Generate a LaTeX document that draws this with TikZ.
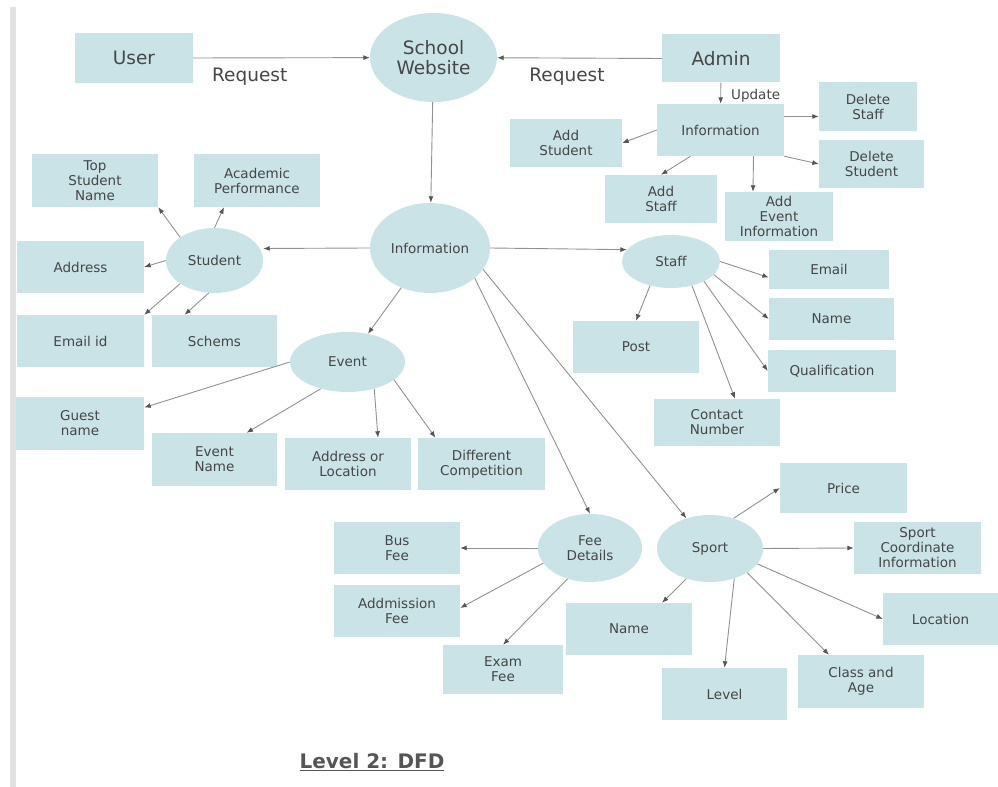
\documentclass[tikz,border=0pt]{standalone}
\usepackage{fontspec}
\setmainfont{DejaVu Sans}
\usetikzlibrary{arrows.meta,shapes}

\definecolor{boxfill}{RGB}{201,227,231}
\definecolor{txtcol}{RGB}{70,70,70}
\definecolor{edgecol}{RGB}{145,145,145}
\definecolor{headcol}{RGB}{85,85,85}
\definecolor{barcol}{RGB}{226,226,226}

\tikzset{
  ent/.style={rectangle, fill=boxfill, inner sep=0pt, align=center, text=txtcol,
    font=\fontsize{13.5bp}{15bp}\selectfont},
  proc/.style={ellipse, fill=boxfill, inner sep=0pt, align=center, text=txtcol,
    font=\fontsize{13.5bp}{15bp}\selectfont},
  big/.style={font=\fontsize{18.5bp}{20bp}\selectfont, text=txtcol},
  lbl/.style={font=\fontsize{13.5bp}{15bp}\selectfont, text=txtcol, inner sep=0pt},
  flow/.style={-{Latex[length=6.5bp,width=5bp,color=headcol]}, draw=edgecol, line width=0.9bp},
}

\begin{document}
\begin{tikzpicture}[line join=bevel,]
\useasboundingbox (0bp,0bp) rectangle (998bp,787bp);
\fill [barcol] (10bp,0bp) rectangle (16bp,780bp);
%%
  % Node: user
  \node [ent, big, minimum width=118bp, minimum height=50bp] (user) at (134bp,729bp) {User};
  % Node: website
  \node [proc, big, minimum width=127bp, minimum height=89bp] (website) at (433.5bp,729.5bp) {School\\Website};
  % Node: admin
  \node [ent, big, minimum width=118bp, minimum height=48bp] (admin) at (721bp,728.5bp) {Admin};
  % Node: ainfo
  \node [ent, minimum width=127bp, minimum height=52bp] (ainfo) at (720.5bp,657bp) {Information};
  % Node: delstaff
  \node [ent, minimum width=98bp, minimum height=49bp] (delstaff) at (868bp,680.5bp) {Delete\\Staff};
  % Node: delstud
  \node [ent, minimum width=105bp, minimum height=48bp] (delstud) at (871.5bp,623bp) {Delete\\Student};
  % Node: addstud
  \node [ent, minimum width=112bp, minimum height=48bp] (addstud) at (566bp,644bp) {Add\\Student};
  % Node: addstaff
  \node [ent, minimum width=112bp, minimum height=48bp] (addstaff) at (661bp,588bp) {Add\\Staff};
  % Node: addevent
  \node [ent, minimum width=108bp, minimum height=49bp] (addevent) at (779bp,570.5bp) {Add\\Event\\Information};
  % Node: info
  \node [proc, minimum width=120bp, minimum height=90bp] (info) at (430bp,539bp) {Information};
  % Node: student
  \node [proc, minimum width=97bp, minimum height=65bp] (student) at (214.5bp,526.5bp) {Student};
  % Node: staff
  \node [proc, minimum width=98bp, minimum height=53bp] (staff) at (671bp,525.5bp) {Staff};
  % Node: email
  \node [ent, minimum width=120bp, minimum height=39bp] (email) at (829bp,517.5bp) {Email};
  % Node: stname
  \node [ent, minimum width=125bp, minimum height=42bp] (stname) at (831.5bp,468bp) {Name};
  % Node: qual
  \node [ent, minimum width=128bp, minimum height=42bp] (qual) at (832bp,416bp) {Qualification};
  % Node: post
  \node [ent, minimum width=126bp, minimum height=52bp] (post) at (636bp,440bp) {Post};
  % Node: contact
  \node [ent, minimum width=126bp, minimum height=47bp] (contact) at (717bp,364.5bp) {Contact\\Number};
  % Node: topname
  \node [ent, minimum width=126bp, minimum height=53bp] (topname) at (95bp,606.5bp) {Top\\Student\\Name};
  % Node: academic
  \node [ent, minimum width=126bp, minimum height=53bp] (academic) at (257bp,606.5bp) {Academic\\Performance};
  % Node: address
  \node [ent, minimum width=127bp, minimum height=52bp] (address) at (80.5bp,520bp) {Address};
  % Node: emailid
  \node [ent, minimum width=127bp, minimum height=52bp] (emailid) at (80.5bp,446bp) {Email id};
  % Node: schems
  \node [ent, minimum width=125bp, minimum height=52bp] (schems) at (214.5bp,446bp) {Schems};
  % Node: event
  \node [proc, minimum width=115bp, minimum height=60bp] (event) at (347.5bp,425bp) {Event};
  % Node: guest
  \node [ent, minimum width=128bp, minimum height=53bp] (guest) at (80bp,363.5bp) {Guest\\name};
  % Node: evname
  \node [ent, minimum width=125bp, minimum height=53bp] (evname) at (214.5bp,327.5bp) {Event\\Name};
  % Node: evaddr
  \node [ent, minimum width=126bp, minimum height=52bp] (evaddr) at (348bp,323bp) {Address or\\Location};
  % Node: evcomp
  \node [ent, minimum width=127bp, minimum height=52bp] (evcomp) at (481.5bp,323bp) {Different\\Competition};
  % Node: fee
  \node [proc, minimum width=104bp, minimum height=68bp] (fee) at (590bp,239bp) {Fee\\Details};
  % Node: sport
  \node [proc, minimum width=106bp, minimum height=67bp] (sport) at (710bp,238.5bp) {Sport};
  % Node: busfee
  \node [ent, minimum width=126bp, minimum height=52bp] (busfee) at (397bp,239bp) {Bus\\Fee};
  % Node: admfee
  \node [ent, minimum width=126bp, minimum height=52bp] (admfee) at (397bp,176bp) {Addmission\\Fee};
  % Node: examfee
  \node [ent, minimum width=120bp, minimum height=49bp] (examfee) at (503bp,117.5bp) {Exam\\Fee};
  % Node: price
  \node [ent, minimum width=127bp, minimum height=50bp] (price) at (843.5bp,299bp) {Price};
  % Node: coord
  \node [ent, minimum width=127bp, minimum height=52bp] (coord) at (917.5bp,239bp) {Sport\\Coordinate\\Information};
  % Node: location
  \node [ent, minimum width=115bp, minimum height=52bp] (location) at (940.5bp,168bp) {Location};
  % Node: spname
  \node [ent, minimum width=126bp, minimum height=52bp] (spname) at (629bp,158bp) {Name};
  % Node: level
  \node [ent, minimum width=125bp, minimum height=52bp] (level) at (724.5bp,93bp) {Level};
  % Node: classage
  \node [ent, minimum width=126bp, minimum height=53bp] (classage) at (861bp,105.5bp) {Class and\\Age};
  % Node: title
  \node [font=\fontsize{20bp}{22bp}\selectfont\bfseries, text={rgb,255:red,85;green,85;blue,85}] (title) at (372bp,25bp) {\underline{Level 2: DFD}};
%%
  % Edge: user -> website
  \draw [flow] (user.east) -- (website) node [big, pos=0.32, yshift=-19bp] (req1) {Request};
  % Edge: admin -> website
  \draw [flow] (admin.west) -- (website) node [big, pos=0.576, yshift=-19bp] (req2) {Request};
  % Edge: website -> info
  \draw [flow] (website) -- (info);
  % Edge: admin -> ainfo
  \draw [flow] (admin) -- (ainfo) node [lbl, pos=0.6, anchor=west, xshift=10bp] (upd) {Update};
  % Edge: ainfo -> delstaff
  \draw [flow] (ainfo.12) -- ([yshift=-10bp]delstaff.west);
  % Edge: ainfo -> delstud
  \draw [flow] (ainfo.south east) -- (delstud.west);
  % Edge: ainfo -> addstud
  \draw [flow] (ainfo.west) -- (addstud.east);
  % Edge: ainfo -> addstaff
  \draw [flow] ([xshift=-30bp]ainfo.south) -- (addstaff.north);
  % Edge: ainfo -> addevent
  \draw [flow] ([xshift=33bp]ainfo.south) -- ([xshift=-26bp]addevent.north);
  % Edge: info -> student
  \draw [flow] (info.west) -- ([yshift=12bp]student.east);
  % Edge: info -> staff
  \draw [flow] (info.east) -- (staff.165);
  % Edge: info -> event
  \draw [flow] (info) -- (event);
  % Edge: info -> fee
  \draw [flow] (info.-34) -- (fee.north);
  % Edge: info -> sport
  \draw [flow] (info.-22) -- (sport.128);
  % Edge: student -> topname
  \draw [flow] (student.146) -- (topname.south east);
  % Edge: student -> academic
  \draw [flow] (student.north) -- ([xshift=-33bp]academic.south);
  % Edge: student -> address
  \draw [flow] (student.west) -- (address.east);
  % Edge: student -> emailid
  \draw [flow] (student.214) -- (emailid.north east);
  % Edge: student -> schems
  \draw [flow] (student.260) -- ([xshift=-30bp]schems.north);
  % Edge: staff -> email
  \draw [flow] (staff.east) -- ([yshift=-8bp]email.west);
  % Edge: staff -> stname
  \draw [flow] (staff.-17) -- (stname.west);
  % Edge: staff -> qual
  \draw [flow] (staff.-31) -- (qual.west);
  % Edge: staff -> contact
  \draw [flow] (staff.-49) -- ([xshift=18bp]contact.north);
  % Edge: staff -> post
  \draw [flow] (staff.-131) -- (post.north);
  % Edge: event -> guest
  \draw [flow] (event.west) -- ([yshift=16bp]guest.east);
  % Edge: event -> evname
  \draw [flow] (event.-135) -- ([xshift=32bp]evname.north);
  % Edge: event -> evaddr
  \draw [flow] (event.-45) -- ([xshift=30bp]evaddr.north);
  % Edge: event -> evcomp
  \draw [flow] (event.-21) -- ([xshift=-46bp]evcomp.north);
  % Edge: fee -> busfee
  \draw [flow] (fee.west) -- (busfee.east);
  % Edge: fee -> admfee
  \draw [flow] (fee.198) -- ([yshift=3bp]admfee.east);
  % Edge: fee -> examfee
  \draw [flow] (fee.-126) -- (examfee.north);
  % Edge: sport -> price
  \draw [flow] (sport.52) -- (price.west);
  % Edge: sport -> coord
  \draw [flow] (sport.east) -- (coord.west);
  % Edge: sport -> location
  \draw [flow] (sport.-18) -- (location.west);
  % Edge: sport -> classage
  \draw [flow] (sport.-33) -- ([xshift=-32bp]classage.north);
  % Edge: sport -> level
  \draw [flow] (sport.-51) -- (level.north);
  % Edge: sport -> spname
  \draw [flow] (sport.-128) -- ([xshift=33bp]spname.north);
%
\end{tikzpicture}
\end{document}
